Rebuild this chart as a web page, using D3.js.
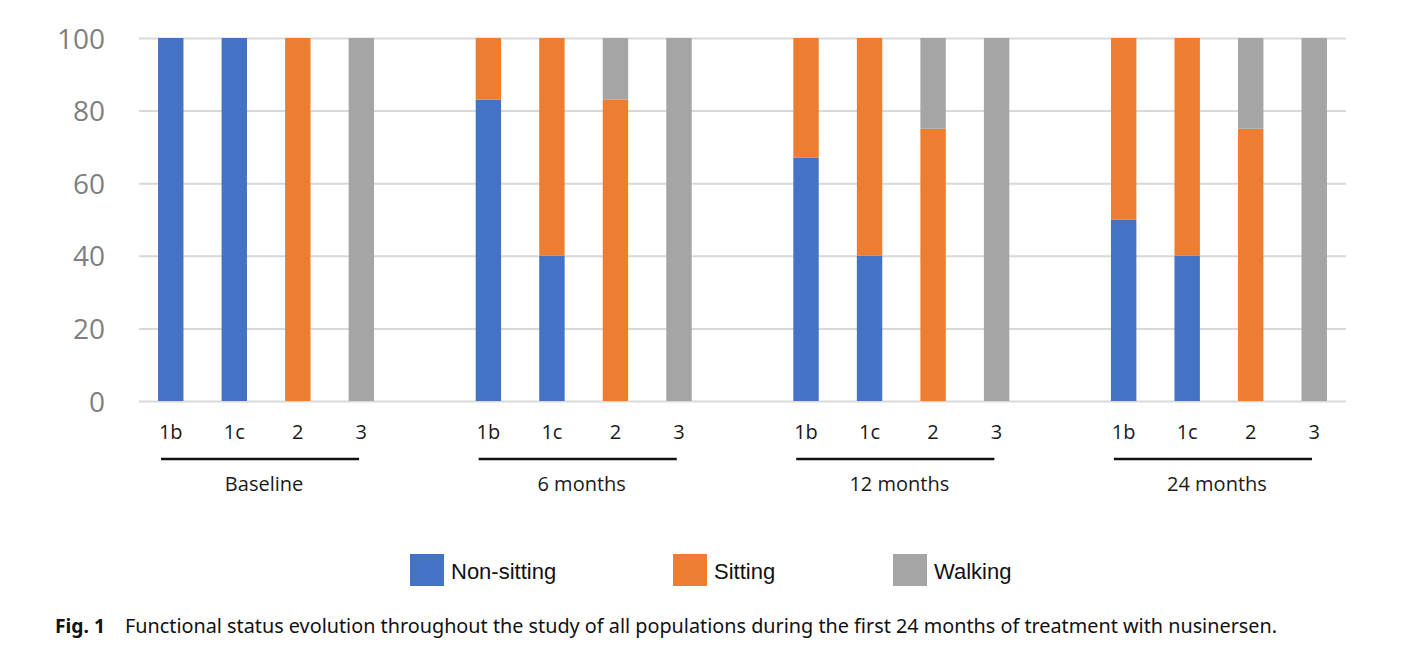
<!DOCTYPE html>
<html lang="en">
  <head>
    <meta charset="UTF-8" />
    <title>Functional status evolution</title>
    <script src="https://cdn.jsdelivr.net/npm/d3@7"></script>
    <style>
      body { margin: 0; background: #fff; }
      svg { display: block; }
    </style>
  </head>
  <body>
    <div id="chart"></div>
    <script>
      // data (percent of patients per type)
      const groups = ['Baseline', '6 months', '12 months', '24 months']
      const types = ['1b', '1c', '2', '3']
      const statuses = ['Non-sitting', 'Sitting', 'Walking']
      const colors = ['#4472c4', '#ed7d31', '#a5a5a5']
      const yTicks = [0, 20, 40, 60, 80, 100]

      // one value per bar, ordered group by group, type by type
      const nonSitting = [100, 100, 0, 0, 83, 40, 0, 0, 67, 40, 0, 0, 50, 40, 0, 0]
      const sitting = [0, 0, 100, 0, 17, 60, 83, 0, 33, 60, 75, 0, 50, 60, 75, 0]
      const walking = [0, 0, 0, 100, 0, 0, 17, 100, 0, 0, 25, 100, 0, 0, 25, 100]

      const caption =
        'Functional status evolution throughout the study of all populations during the first 24 months of treatment with nusinersen.'

      const W = 1402
      const H = 664
      const plotLeft = 139
      const plotRight = 1346
      const plotTop = 38
      const plotBottom = 401

      const rows = []
      groups.forEach((g, gi) => {
        types.forEach((t, ti) => {
          const i = gi * types.length + ti
          rows.push({ group: g, type: t, 'Non-sitting': nonSitting[i], Sitting: sitting[i], Walking: walking[i] })
        })
      })

      const svg = d3
        .select('#chart')
        .append('svg')
        .attr('width', W)
        .attr('height', H)

      const x0 = d3.scaleBand().domain(groups).range([plotLeft, plotRight]).paddingInner(0.2).paddingOuter(0)
      const x1 = d3.scaleBand().domain(types).range([0, x0.bandwidth()]).paddingInner(0.6).paddingOuter(0.3)
      const y = d3.scaleLinear().domain([0, 100]).range([plotBottom, plotTop])
      const color = d3.scaleOrdinal().domain(statuses).range(colors)

      // gridlines + y labels
      const yAxis = svg
        .append('g')
        .attr('transform', `translate(${plotLeft},0)`)
        .call(d3.axisLeft(y).tickValues(yTicks).tickSize(-(plotRight - plotLeft)).tickPadding(34))
      yAxis.select('.domain').remove()
      yAxis.selectAll('.tick line').attr('stroke', '#d9d9d9').attr('stroke-width', 2)
      yAxis
        .selectAll('.tick text')
        .attr('fill', '#7f7f7f')
        .attr('font-family', 'Open Sans, sans-serif')
        .attr('font-size', 28)
        .attr('dy', '0.36em')

      // stacked bars
      const series = d3.stack().keys(statuses)(rows)
      svg
        .append('g')
        .selectAll('g')
        .data(series)
        .join('g')
        .attr('fill', d => color(d.key))
        .selectAll('rect')
        .data(d => d)
        .join('rect')
        .attr('x', d => x0(d.data.group) + x1(d.data.type))
        .attr('width', x1.bandwidth())
        .attr('y', d => y(d[1]))
        .attr('height', d => y(d[0]) - y(d[1]))

      // type labels, bracket lines, group labels
      const grp = svg
        .append('g')
        .selectAll('g')
        .data(groups)
        .join('g')
        .attr('transform', d => `translate(${x0(d)},0)`)

      grp
        .selectAll('text.type')
        .data(types)
        .join('text')
        .attr('class', 'type')
        .attr('x', d => x1(d) + x1.bandwidth() / 2)
        .attr('y', 439)
        .attr('text-anchor', 'middle')
        .attr('font-family', 'Open Sans, sans-serif')
        .attr('font-size', 20)
        .attr('fill', '#1a1a1a')
        .text(d => d)

      grp
        .append('line')
        .attr('x1', 22)
        .attr('x2', x0.bandwidth() - 34)
        .attr('y1', 459)
        .attr('y2', 459)
        .attr('stroke', '#111')
        .attr('stroke-width', 2.5)

      grp
        .append('text')
        .attr('x', (x0.bandwidth() - 12) / 2 + 4)
        .attr('y', 491)
        .attr('text-anchor', 'middle')
        .attr('font-family', 'Open Sans, sans-serif')
        .attr('font-size', 20)
        .attr('fill', '#1a1a1a')
        .text(d => d)

      // legend
      const legendX = [410, 673, 893]
      const legend = svg
        .append('g')
        .selectAll('g')
        .data(statuses)
        .join('g')
        .attr('transform', (d, i) => `translate(${legendX[i]},554)`)
      legend
        .append('rect')
        .attr('width', 34)
        .attr('height', 32)
        .attr('fill', d => color(d))
      legend
        .append('text')
        .attr('x', 41)
        .attr('y', 25)
        .attr('font-family', 'Liberation Sans, Arial, sans-serif')
        .attr('font-size', 22)
        .attr('fill', '#111')
        .text(d => d)

      // caption
      svg
        .append('text')
        .attr('x', 55)
        .attr('y', 633)
        .attr('font-family', 'Noto Sans, sans-serif')
        .attr('font-weight', 'bold')
        .attr('font-size', 20)
        .attr('fill', '#111')
        .attr('textLength', 50)
        .attr('lengthAdjust', 'spacingAndGlyphs')
        .text('Fig. 1')
      svg
        .append('text')
        .attr('x', 125)
        .attr('y', 633)
        .attr('font-family', 'Noto Sans, sans-serif')
        .attr('font-size', 20)
        .attr('fill', '#111')
        .attr('textLength', 1152)
        .attr('lengthAdjust', 'spacingAndGlyphs')
        .text(caption)
    </script>
  </body>
</html>
